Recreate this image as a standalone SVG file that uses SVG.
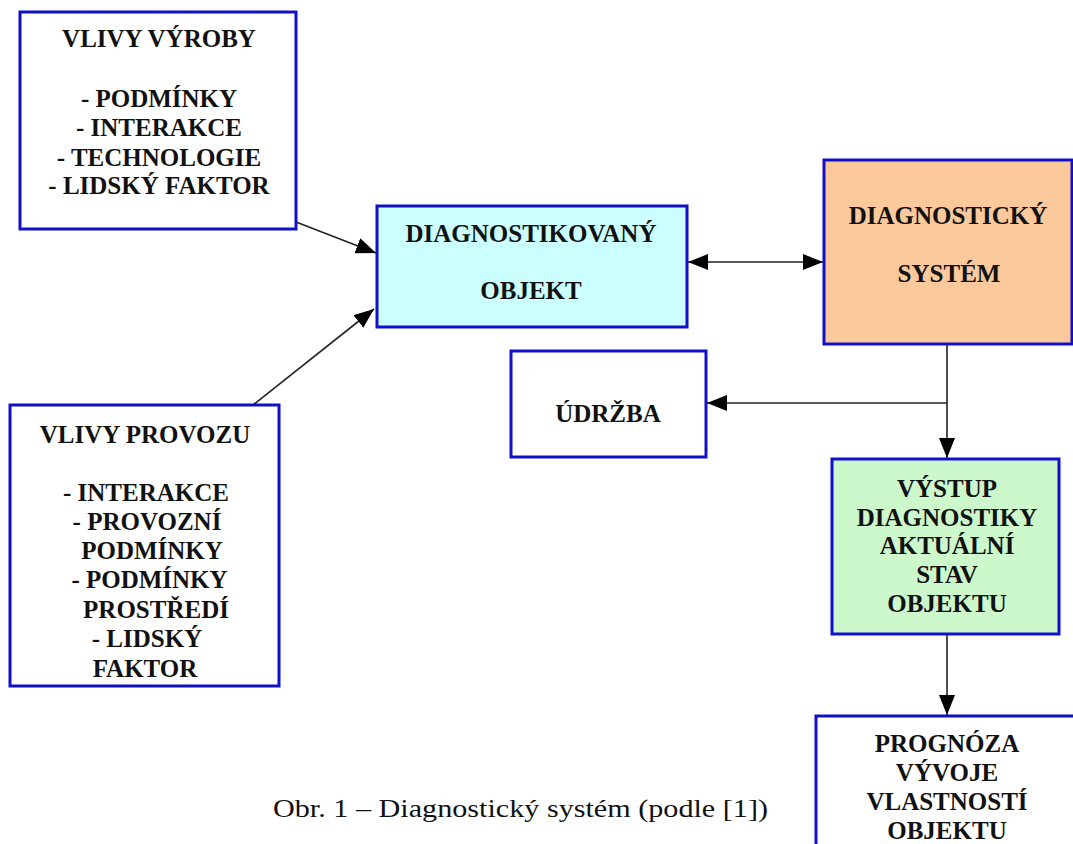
<svg xmlns="http://www.w3.org/2000/svg" width="1073" height="844" viewBox="0 0 1073 844">
<style>
.box{stroke:#1010c8;stroke-width:3}
.t{font-family:"Liberation Serif","Times New Roman",serif;font-weight:bold;font-size:25px;fill:#111;text-anchor:middle}
.cap{font-family:"Liberation Serif","Times New Roman",serif;font-size:26px;fill:#111}
.con{stroke:#222;stroke-width:1.6;fill:none}
</style>
<defs>
<marker id="ah" viewBox="0 0 20 16" refX="20" refY="8" markerWidth="20" markerHeight="16" markerUnits="userSpaceOnUse" orient="auto-start-reverse">
<path d="M0,0 L20,8 L0,16 z" fill="#000"/>
</marker>
</defs>
<rect width="1073" height="844" fill="#fff"/>

<g id="connectors">
<line class="con" x1="296" y1="222" x2="376" y2="253" marker-end="url(#ah)"/>
<line class="con" x1="253" y1="405" x2="374" y2="309" marker-end="url(#ah)"/>
<line class="con" x1="688" y1="262" x2="823" y2="262" marker-start="url(#ah)" marker-end="url(#ah)"/>
<line class="con" x1="947" y1="345" x2="947" y2="458" marker-end="url(#ah)"/>
<line class="con" x1="947" y1="403" x2="707" y2="403" marker-end="url(#ah)"/>
<line class="con" x1="947" y1="635" x2="947" y2="715" marker-end="url(#ah)"/>
</g>

<g id="vlivy-vyroby">
<rect class="box" x="20" y="12" width="276" height="217" fill="#fff"/>
<text class="t" x="159" y="47">VLIVY VÝROBY</text>
<text class="t" x="159" y="107">- PODMÍNKY</text>
<text class="t" x="159" y="136">- INTERAKCE</text>
<text class="t" x="159" y="165.5">- TECHNOLOGIE</text>
<text class="t" x="159" y="194">- LIDSKÝ FAKTOR</text>
</g>

<g id="vlivy-provozu">
<rect class="box" x="10" y="405" width="269" height="281" fill="#fff"/>
<text class="t" x="145" y="443">VLIVY PROVOZU</text>
<text class="t" x="146" y="501">- INTERAKCE</text>
<text class="t" x="147" y="530">- PROVOZNÍ</text>
<text class="t" x="152" y="559">PODMÍNKY</text>
<text class="t" x="149.5" y="588">- PODMÍNKY</text>
<text class="t" x="156" y="618">PROSTŘEDÍ</text>
<text class="t" x="147" y="647">- LIDSKÝ</text>
<text class="t" x="145" y="677">FAKTOR</text>
</g>

<g id="diagnostikovany-objekt">
<rect class="box" x="377" y="206" width="310" height="121" fill="#ccffff"/>
<text class="t" x="531" y="242">DIAGNOSTIKOVANÝ</text>
<text class="t" x="531" y="299">OBJEKT</text>
</g>

<g id="diagnosticky-system">
<rect class="box" x="824" y="160" width="248" height="184" fill="#fbc99c"/>
<text class="t" x="948" y="224">DIAGNOSTICKÝ</text>
<text class="t" x="949" y="282">SYSTÉM</text>
</g>

<g id="udrzba">
<rect class="box" x="511" y="351" width="195" height="106" fill="#fff"/>
<text class="t" x="608" y="422">ÚDRŽBA</text>
</g>

<g id="vystup">
<rect class="box" x="832" y="459" width="227" height="175" fill="#ccf8cc"/>
<text class="t" x="947" y="497">VÝSTUP</text>
<text class="t" x="947" y="525.5">DIAGNOSTIKY</text>
<text class="t" x="947" y="554">AKTUÁLNÍ</text>
<text class="t" x="947" y="582.5">STAV</text>
<text class="t" x="947" y="611.5">OBJEKTU</text>
</g>

<g id="prognoza">
<rect class="box" x="816" y="716" width="262" height="140" fill="#fff"/>
<text class="t" x="947" y="752">PROGNÓZA</text>
<text class="t" x="947" y="781">VÝVOJE</text>
<text class="t" x="947" y="810">VLASTNOSTÍ</text>
<text class="t" x="947" y="838.5">OBJEKTU</text>
</g>

<text class="cap" x="273" y="817" textLength="495" lengthAdjust="spacingAndGlyphs">Obr. 1 – Diagnostický systém (podle [1])</text>
</svg>
